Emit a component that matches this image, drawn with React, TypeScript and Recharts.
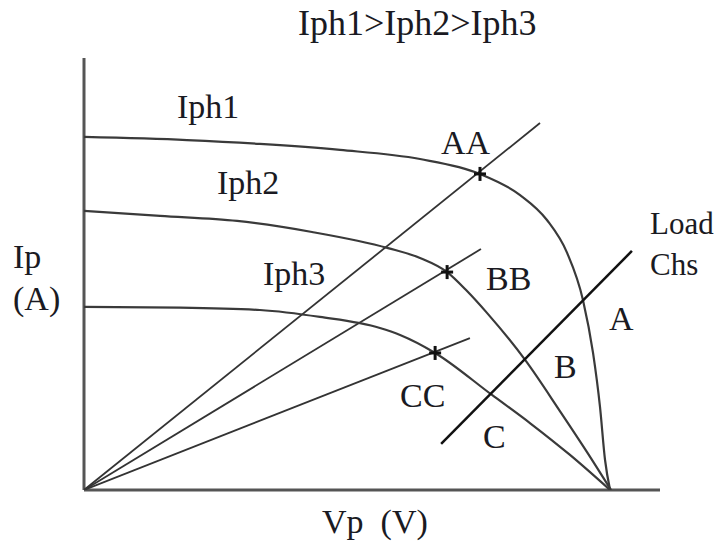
import { ComposedChart, Line, Scatter, XAxis, YAxis, ReferenceLine } from 'recharts';

// I-V curves for three photocurrent levels (V, A)
const iph1 = [
  { v: 0, i: 14.71 },
  { v: 4.29, i: 14.58 },
  { v: 7.33, i: 14.42 },
  { v: 10.67, i: 14.17 },
  { v: 14.0, i: 13.79 },
  { v: 16.5, i: 13.17 },
  { v: 18.17, i: 12.29 },
  { v: 19.29, i: 11.25 },
  { v: 20.13, i: 9.88 },
  { v: 20.79, i: 7.92 },
  { v: 21.21, i: 5.71 },
  { v: 21.5, i: 3.46 },
  { v: 21.71, i: 1.25 },
  { v: 21.92, i: 0 },
];

const iph2 = [
  { v: 0, i: 11.63 },
  { v: 3.17, i: 11.42 },
  { v: 6.38, i: 11.21 },
  { v: 9.5, i: 10.75 },
  { v: 12.67, i: 10.08 },
  { v: 14.0, i: 9.67 },
  { v: 15.13, i: 9.08 },
  { v: 15.96, i: 8.29 },
  { v: 16.79, i: 7.38 },
  { v: 18.38, i: 5.42 },
  { v: 19.83, i: 3.29 },
  { v: 20.96, i: 1.58 },
  { v: 21.96, i: 0 },
];

const iph3 = [
  { v: 0, i: 7.63 },
  { v: 4.0, i: 7.6 },
  { v: 7.33, i: 7.5 },
  { v: 9.83, i: 7.21 },
  { v: 12.33, i: 6.75 },
  { v: 13.17, i: 6.46 },
  { v: 14.63, i: 5.71 },
  { v: 17.0, i: 3.96 },
  { v: 18.58, i: 2.79 },
  { v: 20.25, i: 1.46 },
  { v: 21.92, i: 0 },
];

// resistive load lines through the origin
const loadAA = [{ v: 0, i: 0 }, { v: 19.0, i: 15.29 }];
const loadBB = [{ v: 0, i: 0 }, { v: 16.54, i: 10.04 }];
const loadCC = [{ v: 0, i: 0 }, { v: 16.08, i: 6.33 }];

// load characteristic
const loadChs = [{ v: 14.88, i: 1.92 }, { v: 22.83, i: 9.96 }];

// operating points AA, BB, CC
const operating = [
  { v: 16.5, i: 13.17 },
  { v: 15.13, i: 9.08 },
  { v: 14.63, i: 5.71 },
];

const labels = [
  { text: 'Iph1>Iph2>Iph3', x: 298, y: 35, size: 36 },
  { text: 'Iph1', x: 177, y: 118 },
  { text: 'Iph2', x: 217, y: 194 },
  { text: 'Iph3', x: 263, y: 285 },
  { text: 'AA', x: 441, y: 154 },
  { text: 'BB', x: 486, y: 290 },
  { text: 'CC', x: 400, y: 407 },
  { text: 'A', x: 609, y: 330 },
  { text: 'B', x: 554, y: 378 },
  { text: 'C', x: 483, y: 448 },
  { text: 'Load', x: 650, y: 234, size: 31 },
  { text: 'Chs', x: 650, y: 275, size: 31 },
  { text: 'Ip', x: 13, y: 268 },
  { text: '(A)', x: 13, y: 310 },
  { text: 'Vp  (V)', x: 322, y: 533 },
];

const W = 716;
const H = 554;
const FONT = '"Liberation Serif", "Times New Roman", serif';

const Cross = (props: any) => {
  const { cx, cy } = props;
  return (
    <g stroke="#111" strokeWidth={3}>
      <line x1={cx - 6} x2={cx + 6} y1={cy} y2={cy} />
      <line x1={cx} x2={cx} y1={cy - 7} y2={cy + 7} />
    </g>
  );
};

export default function App() {
  return (
    <div style={{ position: 'absolute', left: 0, top: 0, width: W, height: H, background: '#fff' }}>
      <ComposedChart
        width={W}
        height={H}
        margin={{ top: 58, right: 56, bottom: 64, left: 84 }}
      >
        <XAxis type="number" dataKey="v" domain={[0, 24]} hide allowDataOverflow />
        <YAxis type="number" dataKey="i" domain={[0, 18]} hide allowDataOverflow />
        <ReferenceLine x={0} stroke="#555" strokeWidth={3} />
        <ReferenceLine y={0} stroke="#555" strokeWidth={3} />
        <Line data={loadAA} dataKey="i" type="linear" stroke="#333" strokeWidth={1.8} dot={false} isAnimationActive={false} />
        <Line data={loadBB} dataKey="i" type="linear" stroke="#333" strokeWidth={1.8} dot={false} isAnimationActive={false} />
        <Line data={loadCC} dataKey="i" type="linear" stroke="#333" strokeWidth={1.8} dot={false} isAnimationActive={false} />
        <Line data={iph1} dataKey="i" type="monotone" stroke="#3a3a3a" strokeWidth={2.2} dot={false} isAnimationActive={false} />
        <Line data={iph2} dataKey="i" type="monotone" stroke="#3a3a3a" strokeWidth={2.2} dot={false} isAnimationActive={false} />
        <Line data={iph3} dataKey="i" type="monotone" stroke="#3a3a3a" strokeWidth={2.2} dot={false} isAnimationActive={false} />
        <Line data={loadChs} dataKey="i" type="linear" stroke="#111" strokeWidth={2.5} dot={false} isAnimationActive={false} />
        <Scatter data={operating} dataKey="i" shape={<Cross />} isAnimationActive={false} />
      </ComposedChart>
      <svg
        width={W}
        height={H}
        style={{ position: 'absolute', left: 0, top: 0, pointerEvents: 'none' }}
      >
        {labels.map((l) => (
          <text
            key={l.text}
            x={l.x}
            y={l.y}
            fontFamily={FONT}
            fontSize={l.size ?? 34}
            fill="#1a1a22"
            style={{ whiteSpace: 'pre' }}
          >
            {l.text}
          </text>
        ))}
      </svg>
    </div>
  );
}
